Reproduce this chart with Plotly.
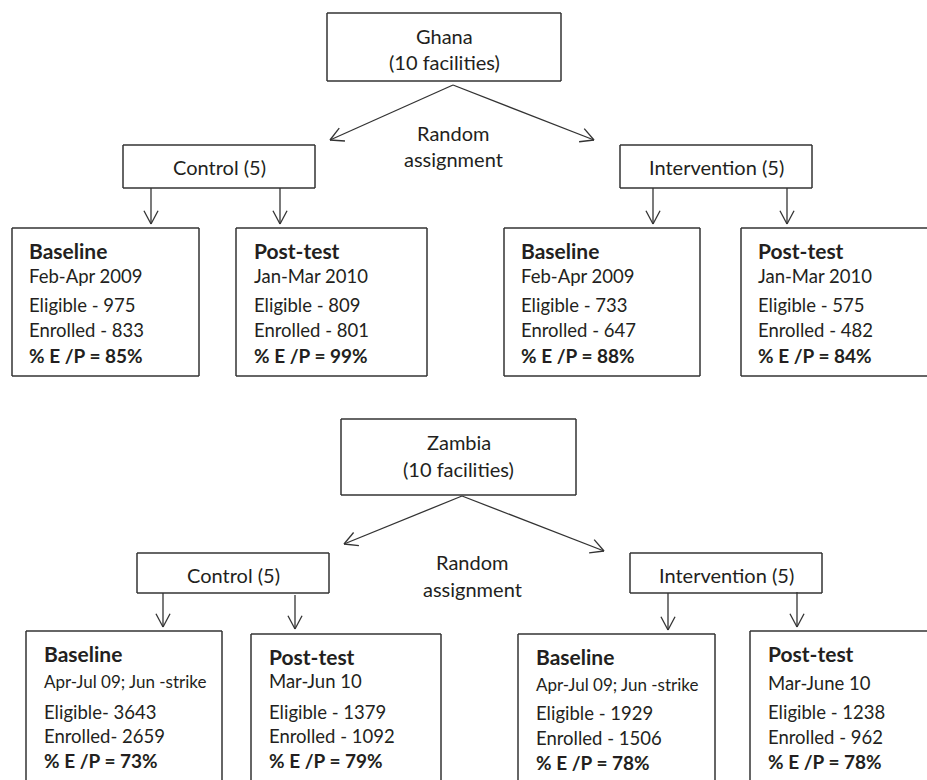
import math
import plotly.graph_objects as go

# ---------------- data ----------------
countries = ["Ghana", "Zambia"]
facility_labels = ["(10 facilities)", "(10 facilities)"]
assignment_label = ["Random", "assignment"]
arm_labels = ["Control (5)", "Intervention (5)"]
phase_labels = ["Baseline", "Post-test", "Baseline", "Post-test"]

ghana_periods = ["Feb-Apr 2009", "Jan-Mar 2010", "Feb-Apr 2009", "Jan-Mar 2010"]
ghana_eligible = [975, 809, 733, 575]
ghana_enrolled = [833, 801, 647, 482]
ghana_pct = [85, 99, 88, 84]
ghana_sep = [" - ", " - ", " - ", " - "]

zambia_periods = ["Apr-Jul 09; Jun -strike", "Mar-Jun 10", "Apr-Jul 09; Jun -strike", "Mar-June 10"]
zambia_eligible = [3643, 1379, 1929, 1238]
zambia_enrolled = [2659, 1092, 1506, 962]
zambia_pct = [73, 79, 78, 78]
zambia_sep = ["- ", " - ", " - ", " - "]

# ---------------- layout geometry (page pixels, y downward) ----------------
W, H = 927, 780
LINE = "#333333"
TXT = "#231f20"
FONT = "Lato"
FS_LABEL = 20
FS_BODY = 18.5
FS_HEAD = 21
FS_PCT = 19

panels = [
    dict(top_box=(327, 13, 561, 81), top_text_y=(36, 62),
         apex=(453, 85), left_end=(330, 140), right_end=(594, 140),
         rand_x=453, rand_y=(133, 159),
         arm_boxes=[(123, 145, 315, 188), (620, 145, 812, 188)], arm_text_y=167,
         down=[(151, 188, 224), (280, 188, 224), (653, 188, 224), (787, 188, 224)],
         boxes_x0=[12, 236, 504, 741], boxes_x1=[199, 427, 700, 945],
         boxes_y0=[228, 228, 228, 228], boxes_y1=[376, 376, 376, 376],
         text_x=[27, 252, 519, 756],
         row_y=[[250, 276, 305, 330, 355]] * 4,
         period_fs=[FS_BODY] * 4),
    dict(top_box=(341, 419, 576, 495), top_text_y=(442, 469),
         apex=(462, 496), left_end=(344, 544), right_end=(604, 551),
         rand_x=472, rand_y=(562, 589),
         arm_boxes=[(137, 553, 329, 593), (630, 553, 822, 593)], arm_text_y=575,
         down=[(163, 593, 627), (295, 595, 629), (668, 593, 630), (797, 592, 627)],
         boxes_x0=[26, 251, 518, 750], boxes_x1=[222, 441, 715, 945],
         boxes_y0=[631, 634, 634, 631], boxes_y1=[800, 800, 800, 800],
         text_x=[42, 267, 534, 766],
         row_y=[[653, 681, 712, 736, 760], [656, 681, 712, 736, 760],
                [656, 684, 713, 738, 762], [653, 683, 712, 737, 761]],
         period_fs=[17, FS_BODY, 17, FS_BODY]),
]

country_data = [
    (ghana_periods, ghana_eligible, ghana_enrolled, ghana_pct, ghana_sep),
    (zambia_periods, zambia_eligible, zambia_enrolled, zambia_pct, zambia_sep),
]

shapes = []
annotations = []


def seg(x0, y0, x1, y1, width=1.3):
    shapes.append(dict(type="line", xref="x", yref="y", x0=x0, y0=y0, x1=x1, y1=y1,
                       line=dict(color=LINE, width=width)))


def rect(x0, y0, x1, y1):
    # draw only the sides that fall inside the page
    bw = 1.5
    seg(x0, y0, min(x1, W + 5), y0, bw)
    seg(x0, y0, x0, min(y1, H + 5), bw)
    if y1 <= H:
        seg(x0, y1, min(x1, W + 5), y1, bw)
    if x1 <= W:
        seg(x1, y0, x1, min(y1, H + 5), bw)


def arrow(x0, y0, x1, y1, head=15, ang=28):
    seg(x0, y0, x1, y1)
    d = math.atan2(y0 - y1, x0 - x1)
    for s in (-1, 1):
        a = d + s * math.radians(ang)
        seg(x1, y1, x1 + head * math.cos(a), y1 + head * math.sin(a))


def text(x, y, s, anchor="left", size=FS_BODY, bold=False):
    if bold:
        s = "<b>" + s + "</b>"
    annotations.append(dict(x=x, y=y, xref="x", yref="y", text=s, showarrow=False,
                            xanchor=anchor, yanchor="middle",
                            font=dict(family=FONT, size=size, color=TXT)))


for i, p in enumerate(panels):
    periods, elig, enr, pct, sep = country_data[i]
    x0, y0, x1, y1 = p["top_box"]
    rect(x0, y0, x1, y1)
    cx = (x0 + x1) / 2
    text(cx, p["top_text_y"][0], countries[i], "center", FS_LABEL)
    text(cx, p["top_text_y"][1], facility_labels[i], "center", FS_LABEL)
    ax, ay = p["apex"]
    arrow(ax, ay, *p["left_end"])
    arrow(ax, ay, *p["right_end"])
    text(p["rand_x"], p["rand_y"][0], assignment_label[0], "center", FS_LABEL)
    text(p["rand_x"], p["rand_y"][1], assignment_label[1], "center", FS_LABEL)
    for j, b in enumerate(p["arm_boxes"]):
        rect(*b)
        text((b[0] + b[2]) / 2, p["arm_text_y"], arm_labels[j], "center", FS_LABEL)
    for (dx, dy0, dy1) in p["down"]:
        arrow(dx, dy0, dx, dy1)
    for k in range(4):
        rect(p["boxes_x0"][k], p["boxes_y0"][k], p["boxes_x1"][k], p["boxes_y1"][k])
        tx = p["text_x"][k]
        ry = p["row_y"][k]
        text(tx, ry[0], phase_labels[k], bold=True, size=FS_HEAD)
        text(tx, ry[1], periods[k], size=p["period_fs"][k])
        text(tx, ry[2], "Eligible" + sep[k] + str(elig[k]))
        text(tx, ry[3], "Enrolled" + sep[k] + str(enr[k]))
        text(tx, ry[4], "%% E /P = %d%%" % pct[k], bold=True, size=FS_PCT)

fig = go.Figure()
fig.add_trace(go.Scatter(x=[None], y=[None], showlegend=False, hoverinfo="skip"))
fig.update_layout(
    width=W, height=H,
    margin=dict(l=0, r=0, t=0, b=0),
    paper_bgcolor="white", plot_bgcolor="white",
    xaxis=dict(range=[0, W], visible=False, fixedrange=True),
    yaxis=dict(range=[H, 0], visible=False, fixedrange=True),
    shapes=shapes, annotations=annotations, showlegend=False,
)
fig.write_html(
    "out.html",
    config={"displayModeBar": False},
    post_script="document.body.style.margin='0';document.body.style.overflow='hidden';",
)
